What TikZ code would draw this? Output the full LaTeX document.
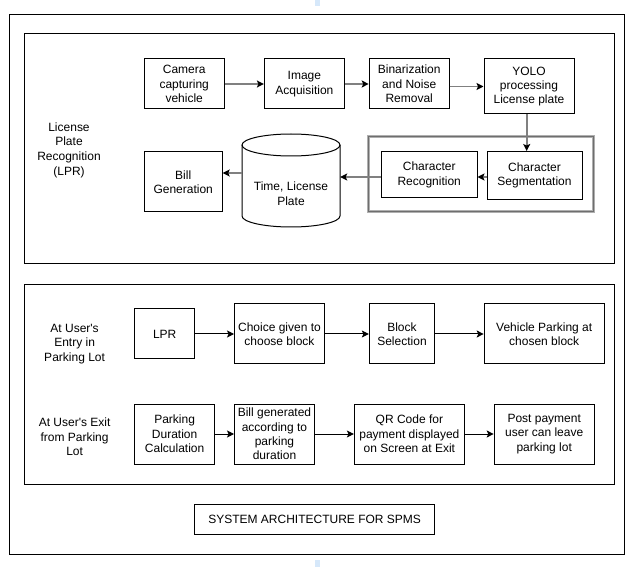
\documentclass[tikz,border=0pt]{standalone}
\usepackage{fontspec}
\setmainfont{Liberation Sans}
\usetikzlibrary{arrows.meta}
\definecolor{lnGray}{RGB}{128,128,128}
\definecolor{grpOut}{RGB}{175,175,175}
\definecolor{grpIn}{RGB}{110,110,110}
\definecolor{markBlue}{RGB}{214,232,250}
\tikzset{
  procbox/.style={draw=black, line width=1pt, inner sep=0pt, align=center,
    font=\fontsize{12}{14.4}\selectfont},
  lbl/.style={inner sep=0pt, align=center, font=\fontsize{12}{14.6}\selectfont},
  panel/.style={draw=black, line width=1pt},
  grayarr/.style={draw=lnGray, line width=1.8pt,
    -{Stealth[length=7pt,width=7pt,inset=1.5pt,color=black]}},
  blackarr/.style={draw=black, line width=1pt,
    -{Stealth[length=7pt,width=7pt,inset=1.5pt]}}
}
\begin{document}
\begin{tikzpicture}[x=1pt,y=-1pt]
\useasboundingbox (0,0) rectangle (633,567);
% page-break marks
\fill[markBlue] (315,0) rectangle (320,6);
\fill[markBlue] (315,560) rectangle (320,567);
% frames
\draw[panel] (9.3,14.5) rectangle (624,554);
\draw[panel] (24.6,34) rectangle (614,264);
\draw[panel] (24.6,284.3) rectangle (614,484);

% ---------- LPR panel ----------
\node[lbl] (lprlbl) at (69,150) {License\\Plate\\Recognition\\(LPR)};
\node[procbox, minimum width=80pt, minimum height=50pt] (cam) at (184.2,84) {Camera\\capturing\\vehicle};
\node[procbox, minimum width=80pt, minimum height=50pt] (acq) at (304.4,84) {Image\\Acquisition};
\node[procbox, minimum width=80pt, minimum height=50pt] (bin) at (409.2,84) {Binarization\\and Noise\\Removal};
\node[procbox, minimum width=90pt, minimum height=55pt] (yolo) at (529,86.5) {YOLO\\processing\\License plate};

% group box
\draw[grpOut, line width=3pt] (368,137) rectangle (593,212);
\draw[grpIn, line width=1pt] (368,137) rectangle (593,212);
\node[inner sep=0pt, minimum width=225pt, minimum height=75pt] (grp) at (480.5,174.5) {};

\node[procbox, minimum width=95pt, minimum height=48pt, fill=white] (seg) at (534.5,175.5) {Character\\Segmentation};
\node[procbox, minimum width=95.6pt, minimum height=46pt, fill=white] (rec) at (429.2,175) {Character\\Recognition};

% cylinder
\node[inner sep=0pt, minimum width=98pt, minimum height=93pt] (cyl) at (291,180.5) {};
\draw[black, line width=1pt] (242,145) -- (242,216) arc[start angle=180, end angle=360, x radius=49, y radius=-11] -- (340,145);
\draw[black, line width=1pt] (291,145) ellipse[x radius=49, y radius=11];
\node[lbl] (cyltxt) at (291,194) {Time, License\\Plate};

\node[procbox, minimum width=78pt, minimum height=60pt] (bill) at (183.2,182) {Bill\\Generation};

% connectors top
\draw[grayarr] (cam.east) -- (acq.west);
\draw[grayarr] (acq.east) -- (bin.west);
\draw[grayarr] (yolo.west -| bin.east) -- (yolo.west);
\draw[grayarr] ([xshift=-2.3pt]yolo.south) -- ([xshift=-2.3pt]yolo.south |- seg.north);
\draw[grayarr] ([yshift=-1.5pt]seg.west) coordinate (s1) -- (s1 -| rec.east);
\draw[grayarr] ([yshift=-2pt]rec.west) coordinate (r1) -- (r1 -| cyl.east);
\draw[grayarr] ([yshift=7.5pt]cyl.west) coordinate (c1) -- (c1 -| bill.east);

% ---------- parking panel ----------
\node[lbl] (entrylbl) at (74.6,344) {At User\textquotesingle s\\Entry in\\Parking Lot};
\node[lbl] (exitlbl) at (74.6,437) {At User\textquotesingle s Exit\\from Parking\\Lot};

\node[procbox, minimum width=60pt, minimum height=50pt] (lpr) at (164.7,334) {LPR};
\node[procbox, minimum width=90pt, minimum height=60pt] (choice) at (279.5,334) {Choice given to\\choose block};
\node[procbox, minimum width=65.3pt, minimum height=60pt] (blk) at (402,334) {Block\\Selection};
\node[procbox, minimum width=120pt, minimum height=60pt] (vpark) at (544.2,334) {Vehicle Parking at\\chosen block};

\node[procbox, minimum width=80pt, minimum height=60pt] (pdur) at (174.6,434) {Parking\\Duration\\Calculation};
\node[procbox, minimum width=80pt, minimum height=60pt] (billgen) at (274.5,434) {Bill generated\\according to\\parking\\duration};
\node[procbox, minimum width=110pt, minimum height=60pt] (qr) at (409.4,434) {QR Code for\\payment displayed\\on Screen at Exit};
\node[procbox, minimum width=100pt, minimum height=60pt] (post) at (544.2,434) {Post payment\\user can leave\\parking lot};

\draw[blackarr] (lpr.east) -- (choice.west);
\draw[blackarr] (choice.east) -- (blk.west);
\draw[blackarr] (blk.east) -- (vpark.west);
\draw[blackarr] (pdur.east) -- (billgen.west);
\draw[blackarr] (billgen.east) -- (qr.west);
\draw[blackarr] (qr.east) -- (post.west);

% title
\node[procbox, minimum width=240pt, minimum height=30pt] (title) at (314.6,519) {SYSTEM ARCHITECTURE FOR SPMS};
\end{tikzpicture}
\end{document}
